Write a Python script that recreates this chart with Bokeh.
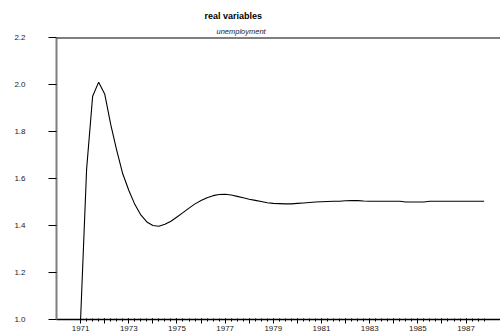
from bokeh.plotting import figure
from bokeh.models import Range1d, FixedTicker, Span, Title
from bokeh.embed import file_html
from bokeh.resources import INLINE

# Quarterly unemployment response, 1971Q1 - 1987Q4
start_year = 1971
unemployment = [
    1.000, 1.640, 1.950, 2.010, 1.960, 1.830, 1.720, 1.620,
    1.550, 1.490, 1.445, 1.415, 1.400, 1.397, 1.405, 1.418,
    1.436, 1.455, 1.474, 1.492, 1.506, 1.518, 1.527, 1.532,
    1.533, 1.530, 1.524, 1.518, 1.512, 1.507, 1.502, 1.497,
    1.494, 1.493, 1.492, 1.492, 1.494, 1.496, 1.498, 1.500,
    1.501, 1.502, 1.503, 1.503, 1.505, 1.506, 1.506, 1.504,
    1.503, 1.503, 1.503, 1.503, 1.503, 1.503, 1.500, 1.500,
    1.500, 1.500, 1.503, 1.503, 1.503, 1.503, 1.503, 1.503,
    1.503, 1.503, 1.503, 1.503,
]
dates = [start_year + i / 4 for i in range(len(unemployment))]

year_ticks = list(range(1971, 1988))
quarter_ticks = [y + q / 4 for y in year_ticks for q in range(4)]
labelled_years = list(range(1971, 1988, 2))
y_ticks = [1.0, 1.2, 1.4, 1.6, 1.8, 2.0, 2.2]

FONT = "Liberation Sans"

p = figure(
    width=500, height=333,
    output_backend="svg", toolbar_location=None,
    x_range=Range1d(1970.0, 1988.43), y_range=Range1d(1.0, 2.2),
    title="real variables",
    min_border_left=56, min_border_right=0, min_border_top=37, min_border_bottom=0,
)
p.outline_line_color = None
p.xgrid.visible = False
p.ygrid.visible = False

p.title.text_font = FONT
p.title.text_font_style = "bold"
p.title.text_font_size = "9px"
p.title.text_color = "black"
p.title.align = "left"
p.title.offset = 148
p.title.standoff = 5

sub = Title(text="unemployment", text_font=FONT, text_font_style="italic",
            text_font_size="7.5px", text_color="#222222", align="left", offset=160, standoff=3)
p.add_layout(sub, "above")

# top rule of the frame
p.add_layout(Span(location=2.2, dimension="width", line_color="black", line_width=2))

p.line(dates, unemployment, line_color="black", line_width=1.1)

# x axis: yearly major ticks, quarterly minor ticks, every other year labelled
xa = p.xaxis[0]
xa.ticker = FixedTicker(ticks=year_ticks, minor_ticks=quarter_ticks)
xa.major_label_overrides = {y: (str(y) if y in labelled_years else "") for y in year_ticks}
xa.axis_line_color = "black"
xa.axis_line_width = 1.5
xa.major_tick_in = 1
xa.major_tick_out = 4
xa.minor_tick_in = 1
xa.minor_tick_out = 2
xa.major_tick_line_color = "black"
xa.minor_tick_line_color = "black"
xa.major_label_standoff = 2
xa.major_label_text_font = FONT
xa.major_label_text_font_size = "8px"
xa.major_label_text_color = "#222222"

# y axis
ya = p.yaxis[0]
ya.ticker = FixedTicker(ticks=y_ticks, minor_ticks=[])
ya.major_label_overrides = {t: f"{t:.1f}" for t in y_ticks}
ya.axis_line_color = "#7f7f7f"
ya.axis_line_width = 2
ya.major_tick_in = 0
ya.major_tick_out = 8
ya.major_tick_line_color = "black"
ya.major_label_standoff = 23
ya.major_label_text_font = FONT
ya.major_label_text_font_size = "8px"
ya.major_label_text_color = "#222222"

open("out.html", "w").write(file_html(p, INLINE))
